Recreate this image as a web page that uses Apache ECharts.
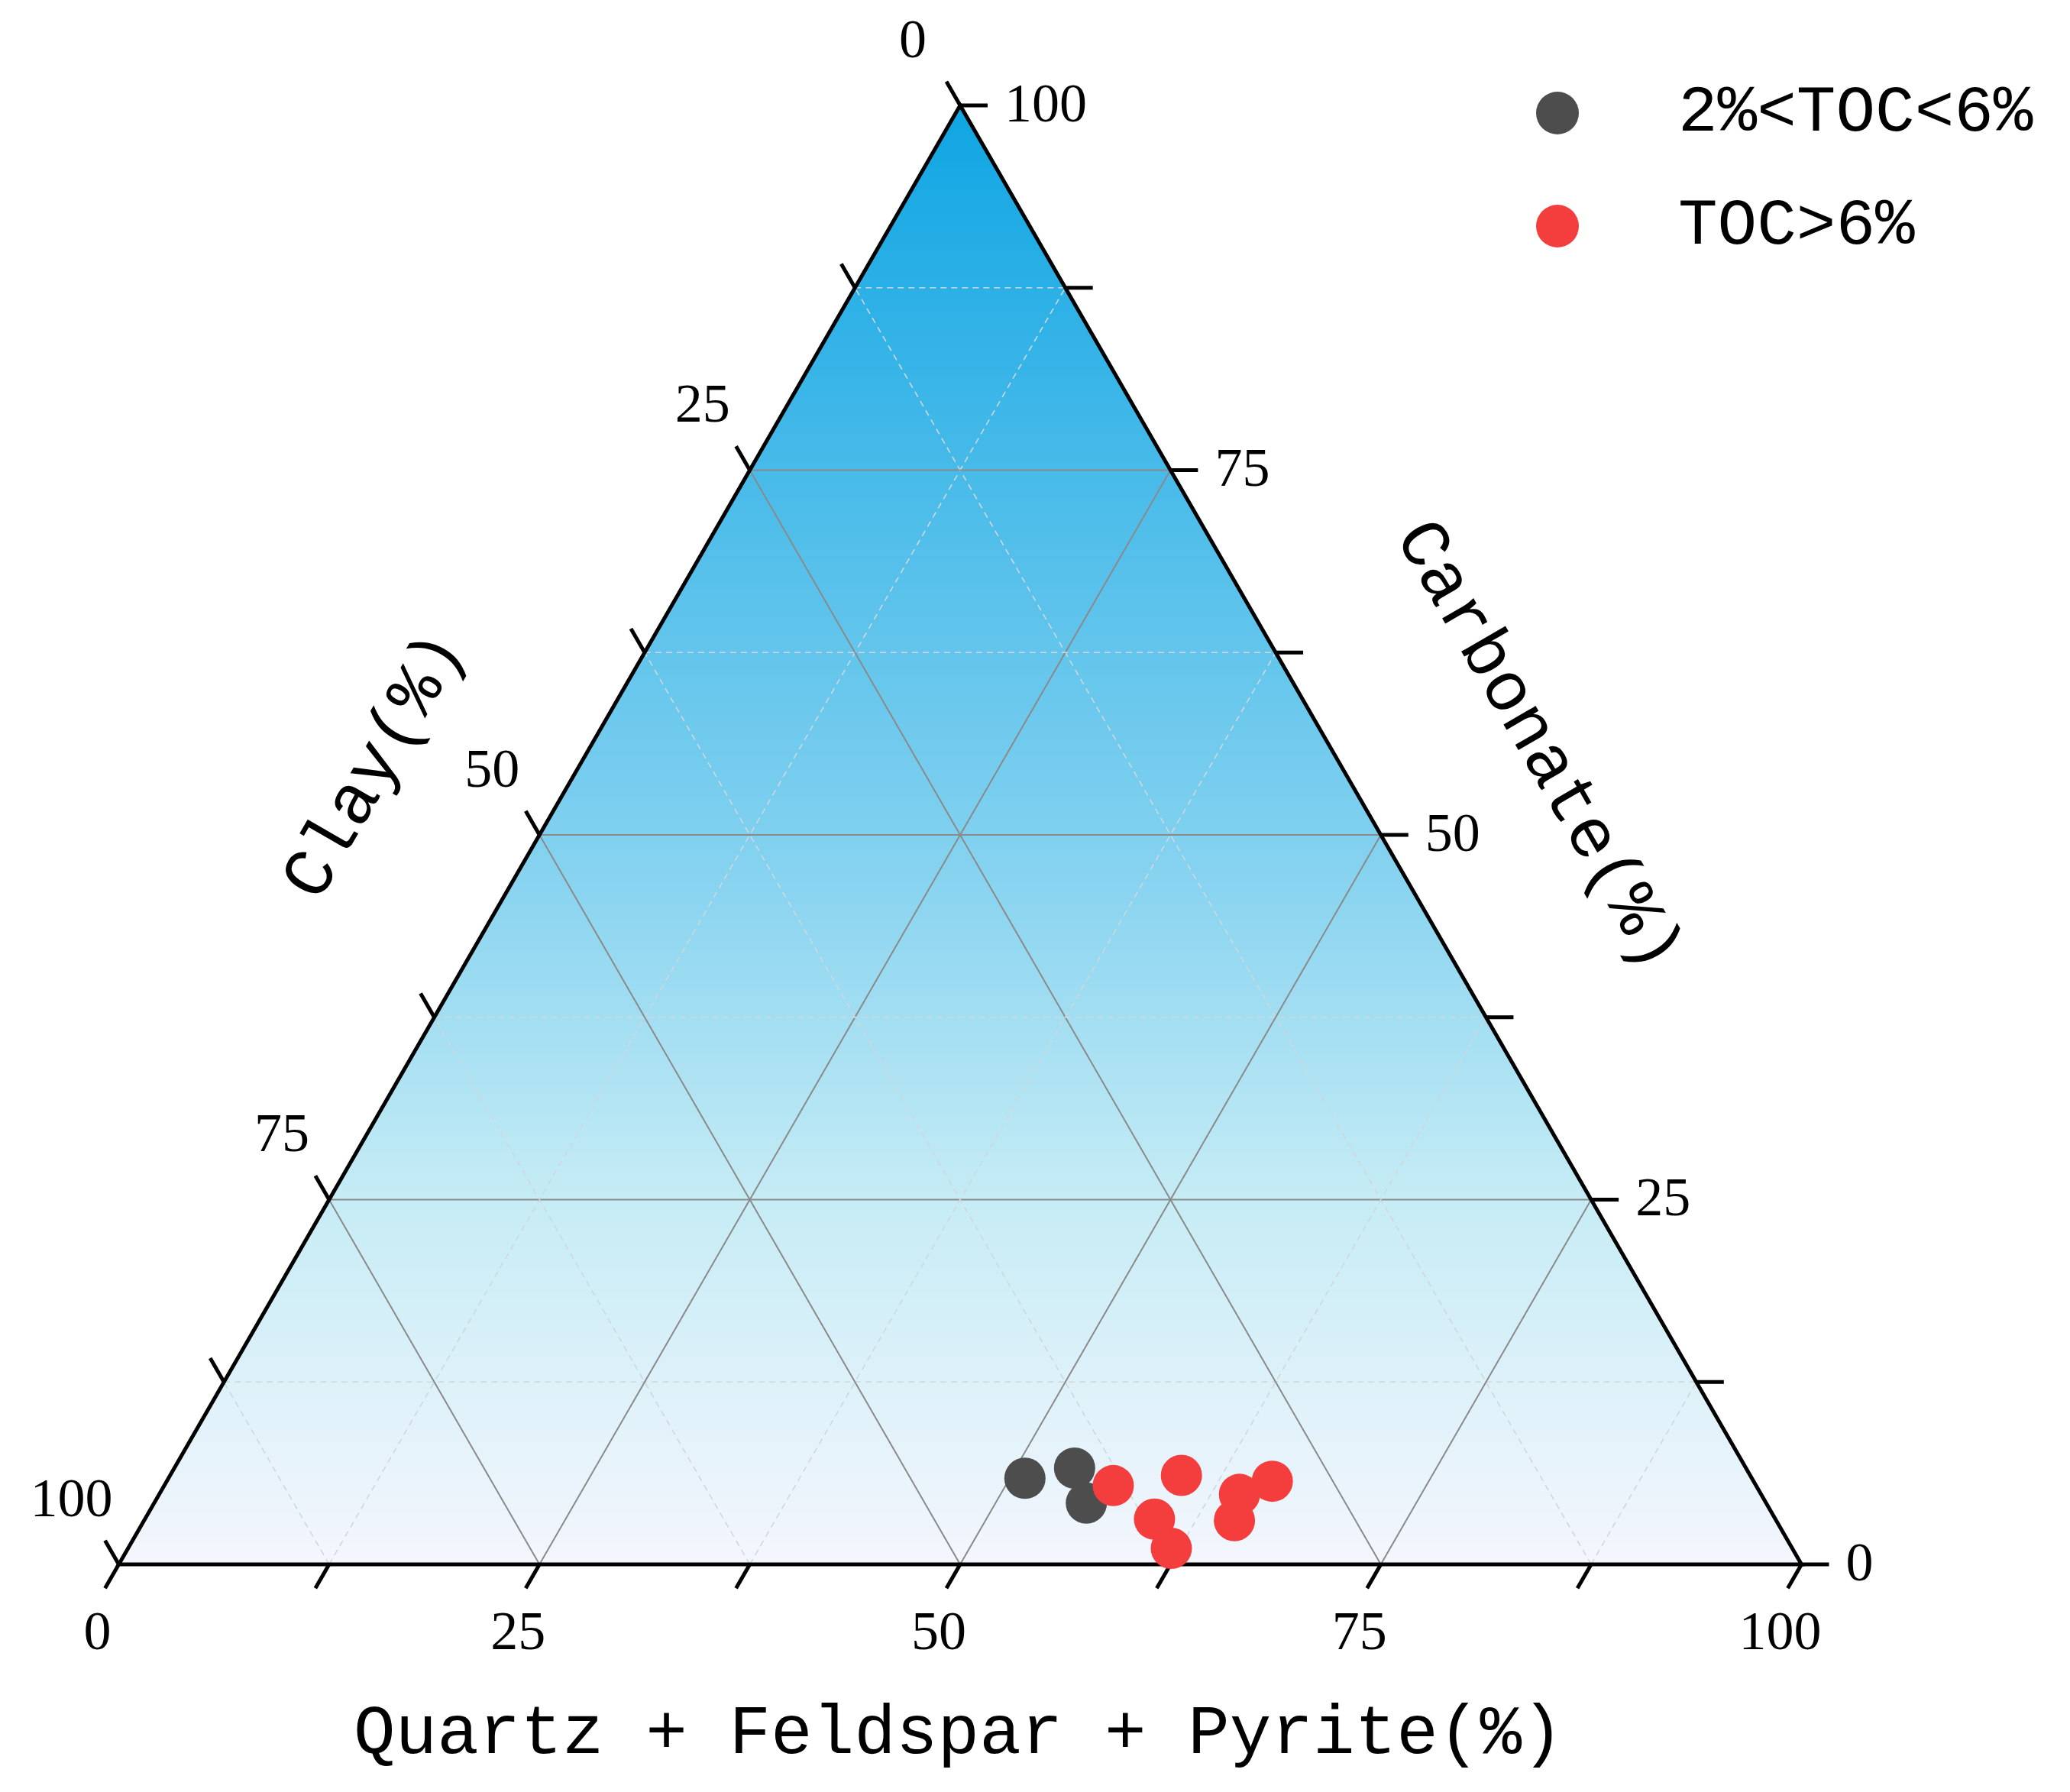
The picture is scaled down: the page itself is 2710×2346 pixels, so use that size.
<!DOCTYPE html>
<html><head><meta charset="utf-8">
<script src="https://cdn.jsdelivr.net/npm/echarts@6/dist/echarts.min.js"></script>
<style>html,body{margin:0;padding:0;background:#fff}#c{width:2710px;height:2346px}</style>
</head><body><div id="c"></div>
<script>
// Ternary data: quartz+feldspar+pyrite, carbonate (clay = remainder)
const lowQ = [50.9, 53.5, 55.4];
const lowC = [5.9, 6.6, 4.2];
const highQ = [56.4, 60.1, 60.0, 62.0, 64.2, 65.7, 64.8];
const highC = [5.4, 6.1, 3.1, 1.1, 4.8, 5.7, 3.0];
const tickValues = [0, 25, 50, 75, 100];
const seriesNames = ['2%<TOC<6%', 'TOC>6%'];

const S = Math.sqrt(3) / 2;
const toXY = (q, c) => [q + c / 2, c * S];
const lowData = lowQ.map((q, i) => toXY(q, lowC[i]));
const highData = highQ.map((q, i) => toXY(q, highC[i]));

const numFont = 'Liberation Serif';
const titleFont = 'Liberation Mono';

function renderFrame(params, api) {
  const P = (q, c) => api.coord(toXY(q, c));
  const ch = [];
  const A = P(0, 0), B = P(100, 0), T = P(0, 100);
  ch.push({type: 'polygon', shape: {points: [A, B, T]}, style: {
    fill: new echarts.graphic.LinearGradient(0, 0, 0, 1, [
      {offset: 0, color: '#0fa5e3'}, {offset: 0.5, color: '#7fd0ef'},
      {offset: 0.75, color: '#c6ecf5'}, {offset: 1, color: '#f4f6fd'}])}});
  const line = (p1, p2, major) => ch.push({type: 'line', shape: {x1: p1[0], y1: p1[1], x2: p2[0], y2: p2[1]},
    style: major ? {stroke: '#8a8a8a', lineWidth: 2} : {stroke: '#cfd8dc', lineWidth: 1.6, lineDash: [8, 6]}});
  for (let k = 1; k < 8; k++) {
    const v = k * 12.5, major = k % 2 === 0;
    line(P(v, 0), P(v, 100 - v), major);
    line(P(0, v), P(100 - v, v), major);
    line(P(100 - v, 0), P(0, 100 - v), major);
  }
  ch.push({type: 'polygon', shape: {points: [A, B, T]}, style: {fill: null, stroke: '#000', lineWidth: 5}});
  const L = 36;
  for (let k = 0; k <= 8; k++) {
    const v = k * 12.5;
    const b = P(v, 0), r = P(100 - v, v), l = P(0, 100 - v);
    ch.push({type: 'line', shape: {x1: b[0], y1: b[1], x2: b[0] - 0.5 * L, y2: b[1] + S * L}, style: {stroke: '#000', lineWidth: 5}});
    ch.push({type: 'line', shape: {x1: r[0], y1: r[1], x2: r[0] + L, y2: r[1]}, style: {stroke: '#000', lineWidth: 5}});
    ch.push({type: 'line', shape: {x1: l[0], y1: l[1], x2: l[0] - 0.5 * L, y2: l[1] - S * L}, style: {stroke: '#000', lineWidth: 5}});
  }
  const txt = (x, y, s, align) => ch.push({type: 'text', style: {x, y, text: s, fill: '#000',
    font: '72px "' + numFont + '"', align: align || 'center', verticalAlign: 'middle'}});
  tickValues.forEach(v => {
    const b = P(v, 0); txt(b[0] - 28, b[1] + 92, String(v));
    const r = P(100 - v, v); txt(r[0] + 58, r[1] + 2, String(v), 'left');
    const l = P(0, 100 - v); txt(l[0] - 62, l[1] - 82, String(v));
  });
  return {type: 'group', children: ch};
}

const chart = echarts.init(document.getElementById('c'));
chart.setOption({
  animation: false,
  grid: {left: 155.5, top: 138, width: 2203, height: 1910},
  xAxis: {type: 'value', min: 0, max: 100, show: false},
  yAxis: {type: 'value', min: 0, max: 100 * S, show: false},
  legend: {orient: 'vertical', left: 2006, top: 100, itemGap: 62, itemWidth: 56, itemHeight: 56,
    icon: 'circle', textStyle: {fontFamily: titleFont, fontSize: 86, color: '#000', padding: [0, 0, 0, 125]},
    data: seriesNames},
  graphic: [
    {type: 'text', left: 463, top: 2225, style: {text: 'Quartz + Feldspar + Pyrite(%)', font: '91px "' + titleFont + '"', fill: '#000'}},
    {type: 'text', x: 492, y: 1003, rotation: Math.PI / 3, style: {text: 'Clay(%)', font: '92px "' + titleFont + '"', fill: '#000', align: 'center', verticalAlign: 'middle'}},
    {type: 'text', x: 2013, y: 977, rotation: -Math.PI / 3, style: {text: 'Carbonate(%)', font: '92px "' + titleFont + '"', fill: '#000', align: 'center', verticalAlign: 'middle'}}
  ],
  series: [
    {type: 'custom', renderItem: renderFrame, data: [0], silent: true, z: 1},
    {name: seriesNames[0], type: 'scatter', data: lowData, symbolSize: 54, itemStyle: {color: '#4d4d4d', opacity: 1}, z: 5},
    {name: seriesNames[1], type: 'scatter', data: highData, symbolSize: 54, itemStyle: {color: '#f43e3e', opacity: 1}, z: 6}
  ]
});
</script></body></html>
